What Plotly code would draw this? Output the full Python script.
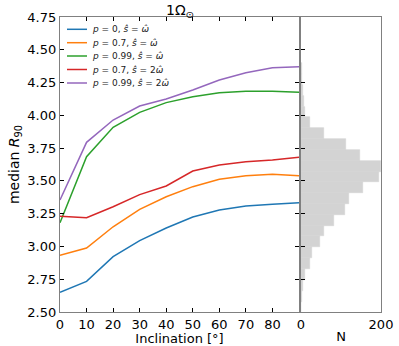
import plotly.graph_objects as go

# inclination grid and median R90 per model
incl = [0, 10, 20, 30, 40, 50, 60, 70, 80, 90]
r_p0 = [2.650, 2.734, 2.922, 3.044, 3.141, 3.224, 3.278, 3.308, 3.321, 3.334]
r_p07 = [2.932, 2.988, 3.150, 3.283, 3.379, 3.456, 3.512, 3.540, 3.550, 3.540]
r_p099 = [3.181, 3.684, 3.909, 4.023, 4.097, 4.142, 4.173, 4.183, 4.183, 4.176]
r_p07_2w = [3.230, 3.219, 3.303, 3.395, 3.461, 3.575, 3.621, 3.646, 3.659, 3.680]
r_p099_2w = [3.354, 3.794, 3.964, 4.071, 4.125, 4.193, 4.269, 4.325, 4.363, 4.371]

labels = ["<i>p</i> = 0, <i>ŝ</i> = <i>ω̂</i>",
          "<i>p</i> = 0.7, <i>ŝ</i> = <i>ω̂</i>",
          "<i>p</i> = 0.99, <i>ŝ</i> = <i>ω̂</i>",
          "<i>p</i> = 0.7, <i>ŝ</i> = 2<i>ω̂</i>",
          "<i>p</i> = 0.99, <i>ŝ</i> = 2<i>ω̂</i>"]
colors = ["#1f77b4", "#ff7f0e", "#2ca02c", "#d62728", "#9467bd"]

# observed R90 histogram (bin edges, counts)
bin_edges = [2.497, 2.580, 2.662, 2.745, 2.828, 2.910, 2.993, 3.076, 3.158, 3.241,
             3.323, 3.406, 3.488, 3.571, 3.654, 3.737, 3.819, 3.902, 3.984, 4.067,
             4.150, 4.232, 4.315, 4.398]
counts = [1, 3, 6, 11, 22, 27, 48, 57, 82, 109,
          120, 156, 195, 200, 147, 112, 57, 22, 11, 7,
          4, 3, 2]

fig = go.Figure()
series = [r_p0, r_p07, r_p099, r_p07_2w, r_p099_2w]
for ys, lab, col in zip(series, labels, colors):
    fig.add_trace(go.Scatter(x=incl, y=ys, mode="lines", name=lab,
                             line=dict(color=col, width=1.5),
                             xaxis="x", yaxis="y", showlegend=False))

centers = [(a + b) / 2 for a, b in zip(bin_edges[:-1], bin_edges[1:])]
widths = [b - a for a, b in zip(bin_edges[:-1], bin_edges[1:])]
fig.add_trace(go.Bar(x=counts, y=centers, width=widths, orientation="h",
                     marker=dict(color="#d3d3d3", line=dict(color="#d3d3d3", width=0.6)),
                     xaxis="x2", yaxis="y2", showlegend=False))

W, H = 399, 346
def px(x): return x / W
def py(y): return 1 - y / H

# hand-made legend (matplotlib-like compact spacing)
rows = [29.3, 42.7, 56.0, 69.5, 83.0]
for lab, col, yr in zip(labels, colors, rows):
    fig.add_shape(type="line", xref="paper", yref="paper",
                  x0=px(67), x1=px(87), y0=py(yr), y1=py(yr),
                  line=dict(color=col, width=1.5))
    fig.add_annotation(text=lab, xref="paper", yref="paper", x=px(90), y=py(yr),
                       xanchor="left", yanchor="middle", showarrow=False,
                       font=dict(size=9, color="#222"))

fig.add_annotation(text="1Ω<sub>⊙</sub>", xref="paper", yref="paper",
                   x=(px(60) + px(299)) / 2, y=py(11), xanchor="center", yanchor="middle",
                   showarrow=False, font=dict(size=14, color="black"))

spine = "#808080"
ax = dict(showline=True, linecolor=spine, linewidth=1.2, ticks="inside", ticklen=4,
          tickcolor="black", tickwidth=1, showgrid=False, zeroline=False,
          automargin=False, tickfont=dict(size=13, color="black"))

fig.update_layout(
    width=W, height=H, margin=dict(l=0, r=0, t=0, b=0),
    plot_bgcolor="white", paper_bgcolor="white", bargap=0,
    font=dict(family="DejaVu Sans", color="black"),
    xaxis=dict(ax, domain=[px(60), px(299)], range=[0, 90], mirror="ticks",
               tickvals=[0, 10, 20, 30, 40, 50, 60, 70, 80], anchor="y",
               title=dict(text="Inclination [°]", font=dict(size=13), standoff=1)),
    yaxis=dict(ax, domain=[py(312), py(17)], range=[2.5, 4.75], mirror="ticks",
               tickvals=[2.5, 2.75, 3.0, 3.25, 3.5, 3.75, 4.0, 4.25, 4.5, 4.75],
               ticktext=["2.50", "2.75", "3.00", "3.25", "3.50", "3.75", "4.00",
                         "4.25", "4.50", "4.75"], anchor="x",
               title=dict(text="median <i>R</i><sub>90</sub>", font=dict(size=14), standoff=4)),
    xaxis2=dict(ax, domain=[px(301), px(381)], range=[0, 200], mirror=True,
                tickvals=[0, 200], anchor="y2",
                title=dict(text="N", font=dict(size=13), standoff=1)),
    yaxis2=dict(ax, domain=[py(312), py(17)], range=[2.5, 4.75], mirror=True,
                tickvals=[2.5, 2.75, 3.0, 3.25, 3.5, 3.75, 4.0, 4.25, 4.5, 4.75],
                showticklabels=False, anchor="x2"),
)

# drop the browser's default page margin so the figure sits at the window origin
fig.write_html("out.html", config={"displayModeBar": False},
               post_script="document.body.style.margin='0px';")
